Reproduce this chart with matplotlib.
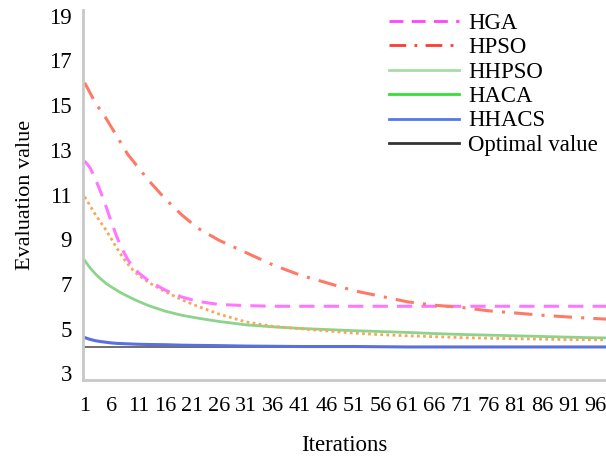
import matplotlib
matplotlib.use('Agg')
import matplotlib.pyplot as plt
from matplotlib.lines import Line2D

plt.rcParams['font.family'] = ['Liberation Serif', 'DejaVu Serif']

iters = [1, 2, 3, 4, 5, 6, 7, 8, 9, 10, 11, 13, 16, 19, 22, 26, 31, 36, 41, 46, 51, 56, 61, 66,
         71, 76, 81, 86, 91, 96, 100]

hga = [12.5, 12.2, 11.7, 11.1, 10.45, 9.75, 9.1, 8.55, 8.1, 7.75, 7.5, 7.12, 6.72, 6.42, 6.22,
       6.08, 6.03, 6.0, 6.0, 6.0, 6.0, 6.0, 6.0, 6.0, 6.0, 6.0, 6.0, 6.0, 6.0, 6.0, 6.0]
hpso = [16.0, 15.55, 15.1, 14.75, 14.4, 14.0, 13.6, 13.2, 12.8, 12.5, 12.2, 11.6, 10.8, 10.1,
        9.5, 8.95, 8.4, 7.85, 7.4, 7.05, 6.7, 6.45, 6.2, 6.05, 5.95, 5.8, 5.7, 5.6, 5.52, 5.45, 5.4]
dotted = [10.9, 10.5, 10.1, 9.75, 9.4, 9.0, 8.6, 8.22, 7.9, 7.62, 7.4, 7.05, 6.65, 6.3, 6.0,
          5.65, 5.3, 5.1, 5.0, 4.9, 4.8, 4.73, 4.68, 4.64, 4.6, 4.57, 4.55, 4.53, 4.51, 4.5, 4.5]
hhpso = [8.05, 7.72, 7.45, 7.22, 7.02, 6.86, 6.71, 6.57, 6.45, 6.33, 6.22, 6.02, 5.78, 5.6, 5.47,
         5.32, 5.17, 5.08, 5.01, 4.96, 4.91, 4.87, 4.83, 4.78, 4.74, 4.71, 4.68, 4.65, 4.62, 4.59, 4.58]
hhacs = [4.6, 4.52, 4.46, 4.42, 4.39, 4.36, 4.34, 4.33, 4.32, 4.31, 4.3, 4.29, 4.28, 4.26, 4.25,
         4.24, 4.22, 4.21, 4.2, 4.2, 4.2, 4.19, 4.18, 4.18, 4.18, 4.18, 4.18, 4.18, 4.18, 4.18, 4.18]
optimal = [4.2] * len(iters)

xticks = list(range(1, 97, 5))
yticks = [3, 5, 7, 9, 11, 13, 15, 17, 19]

fig = plt.figure(figsize=(6.06, 4.59), dpi=100)
ax = fig.add_axes([0.137, 0.172, 0.863, 0.806])

ax.plot(iters, optimal, color='#555555', lw=1.2)
ax.plot(iters, hhacs, color='#5a6fe0', lw=2.2)
ax.plot(iters, hhpso, color='#8cd48c', lw=2.0)
ax.plot(iters, dotted, color='#f5a85a', lw=2.0, ls=(0, (1, 1.2)))
ax.plot(iters, hga, color='#ff77ff', lw=2.2, ls=(0, (5, 3)))
ax.plot(iters, hpso, color='#ff7a66', lw=2.2, ls=(0, (6, 3, 1, 3)))

ax.set_xlim(0.7, 97.9)
ax.set_ylim(2.7, 19.25)
ax.set_xticks(xticks)
ax.set_yticks(yticks)
ax.tick_params(length=0, labelsize=16.5, pad=12)
ax.tick_params(axis='x', labelsize=16)
ax.tick_params(axis='y', pad=8)
for s in ['top', 'right']:
    ax.spines[s].set_visible(False)
for s in ['left', 'bottom']:
    ax.spines[s].set_color('#c8c8c8')
    ax.spines[s].set_linewidth(2)

ax.set_xlabel('Iterations', fontsize=16.5, labelpad=14)
ax.set_ylabel('Evaluation value', fontsize=16, labelpad=10)

handles = [
    Line2D([], [], color='#ff44ff', lw=2, ls=(0, (5, 3))),
    Line2D([], [], color='#ff3b30', lw=2, ls=(0, (6, 3, 1, 3))),
    Line2D([], [], color='#a8dca8', lw=2),
    Line2D([], [], color='#33e033', lw=2),
    Line2D([], [], color='#5577ee', lw=2),
    Line2D([], [], color='#333333', lw=2),
]
labels = ['HGA', 'HPSO', 'HHPSO', 'HACA', 'HHACS', 'Optimal value']
fig.legend(handles, labels, loc='upper left', bbox_to_anchor=(0.634, 0.982), frameon=False,
           fontsize=16.4, handlelength=3.07, handletextpad=0.4, labelspacing=0.15,
           borderaxespad=0, borderpad=0.2)

plt.savefig('out.png', dpi=100)
